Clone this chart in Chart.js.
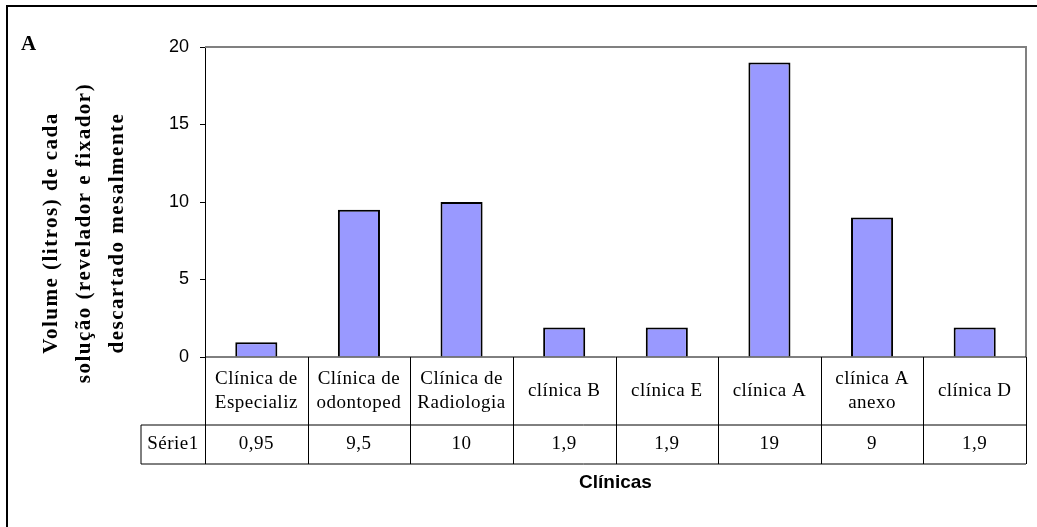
<!DOCTYPE html>
<html>
<head>
<meta charset="utf-8">
<script src="https://cdn.jsdelivr.net/npm/chart.js@4"></script>
<style>
  body { margin: 0; background: #fff; }
  #wrap { width: 1037px; height: 527px; }
</style>
</head>
<body>
<div id="wrap"><canvas id="chart" width="1037" height="527"></canvas></div>
<script>
let categories = [
    ['Clínica de', 'Especializ'],
    ['Clínica de', 'odontoped'],
    ['Clínica de', 'Radiologia'],
    'clínica B',
    'clínica E',
    'clínica A',
    ['clínica A', 'anexo'],
    'clínica D'
];
let values = [0.95, 9.5, 10, 1.9, 1.9, 19, 9, 1.9];
let seriesName = 'Série1';
let yTicks = [0, 5, 10, 15, 20];
let yTitle = ['Volume (litros) de cada', 'solução (revelador e fixador)', 'descartado mesalmente'];
let xTitle = 'Clínicas';
let panelLabel = 'A';

const serif = '"Liberation Serif", "Times New Roman", serif';
const sans = '"Liberation Sans", Arial, sans-serif';

// frame, titles and the data table under the plot
const extras = {
    id: 'extras',
    afterDraw(chart) {
        const ctx = chart.ctx;
        const area = chart.chartArea;
        const x = chart.scales.x;
        ctx.save();

        // outer frame (only top and left are inside the picture)
        ctx.strokeStyle = '#000';
        ctx.lineWidth = 2;
        ctx.beginPath();
        ctx.moveTo(7, 527);
        ctx.lineTo(7, 6);
        ctx.lineTo(1037, 6);
        ctx.stroke();

        // plot border top/right
        ctx.strokeStyle = '#808080';
        ctx.lineWidth = 2;
        ctx.beginPath();
        ctx.moveTo(area.left, area.top);
        ctx.lineTo(area.right, area.top);
        ctx.lineTo(area.right, area.bottom);
        ctx.stroke();

        ctx.fillStyle = '#000';
        ctx.font = 'bold 21px ' + serif;
        ctx.textAlign = 'left';
        ctx.textBaseline = 'middle';
        ctx.fillText(panelLabel, 21, 45);

        // y title
        ctx.save();
        ctx.translate(85, 233);
        ctx.rotate(-Math.PI / 2);
        ctx.font = 'bold 21px ' + serif;
        ctx.letterSpacing = '1.5px';
        ctx.textAlign = 'center';
        yTitle.forEach((line, i) => {
            ctx.fillText(line, 0, (i - 1) * 33);
        });
        ctx.restore();

        // table
        const row1 = area.bottom;
        const row2 = 425;
        const row3 = 464;
        const nameLeft = 141;
        const step = (area.right - area.left) / categories.length;

        ctx.strokeStyle = '#000';
        ctx.lineWidth = 1;
        ctx.beginPath();
        ctx.moveTo(area.left, row1);
        ctx.lineTo(area.right, row1);
        ctx.moveTo(nameLeft, row2);
        ctx.lineTo(area.right, row2);
        ctx.moveTo(nameLeft, row3);
        ctx.lineTo(area.right, row3);
        ctx.moveTo(nameLeft, row2);
        ctx.lineTo(nameLeft, row3);
        for (let i = 0; i <= categories.length; i++) {
            const cx = Math.round(area.left + i * step) + 0.5;
            ctx.moveTo(cx, row1);
            ctx.lineTo(cx, row3);
        }
        ctx.stroke();

        ctx.font = '19px ' + serif;
        ctx.letterSpacing = '0.5px';
        ctx.textAlign = 'center';
        ctx.textBaseline = 'middle';
        categories.forEach((c, i) => {
            const cx = x.getPixelForValue(i);
            const lines = Array.isArray(c) ? c : [c];
            const mid = (row1 + row2) / 2;
            lines.forEach((line, j) => {
                ctx.fillText(line, cx, mid + (j - (lines.length - 1) / 2) * 24);
            });
            ctx.fillText(String(values[i]).replace('.', ','), cx, (row2 + row3) / 2);
        });
        ctx.fillText(seriesName, (nameLeft + area.left) / 2, (row2 + row3) / 2);

        // x title
        ctx.letterSpacing = '0px';
        ctx.font = 'bold 19px ' + sans;
        ctx.fillText(xTitle, (area.left + area.right) / 2, 483);

        ctx.restore();
    }
};

new Chart(document.getElementById('chart'), {
    type: 'bar',
    data: {
        labels: categories,
        datasets: [{
            label: seriesName,
            data: values,
            backgroundColor: '#9999FF',
            borderColor: '#000',
            borderWidth: 2,
            barPercentage: 0.41,
            categoryPercentage: 1,
        }]
    },
    options: {
        responsive: false,
        animation: false,
        layout: { padding: { left: 0, top: 47, right: 11, bottom: 170 } },
        plugins: { legend: { display: false }, tooltip: { enabled: false } },
        scales: {
            x: { display: false },
            y: {
                min: 0,
                max: 20,
                afterFit(scale) { scale.width = 205; },
                afterBuildTicks(scale) { scale.ticks = yTicks.map(v => ({ value: v })); },
                ticks: { color: '#000', padding: 11, font: { family: sans, size: 18 } },
                grid: { drawOnChartArea: false, tickLength: 5, color: '#000' },
                border: { color: '#000', width: 1 }
            }
        }
    },
    plugins: [extras]
});
</script>
</body>
</html>
